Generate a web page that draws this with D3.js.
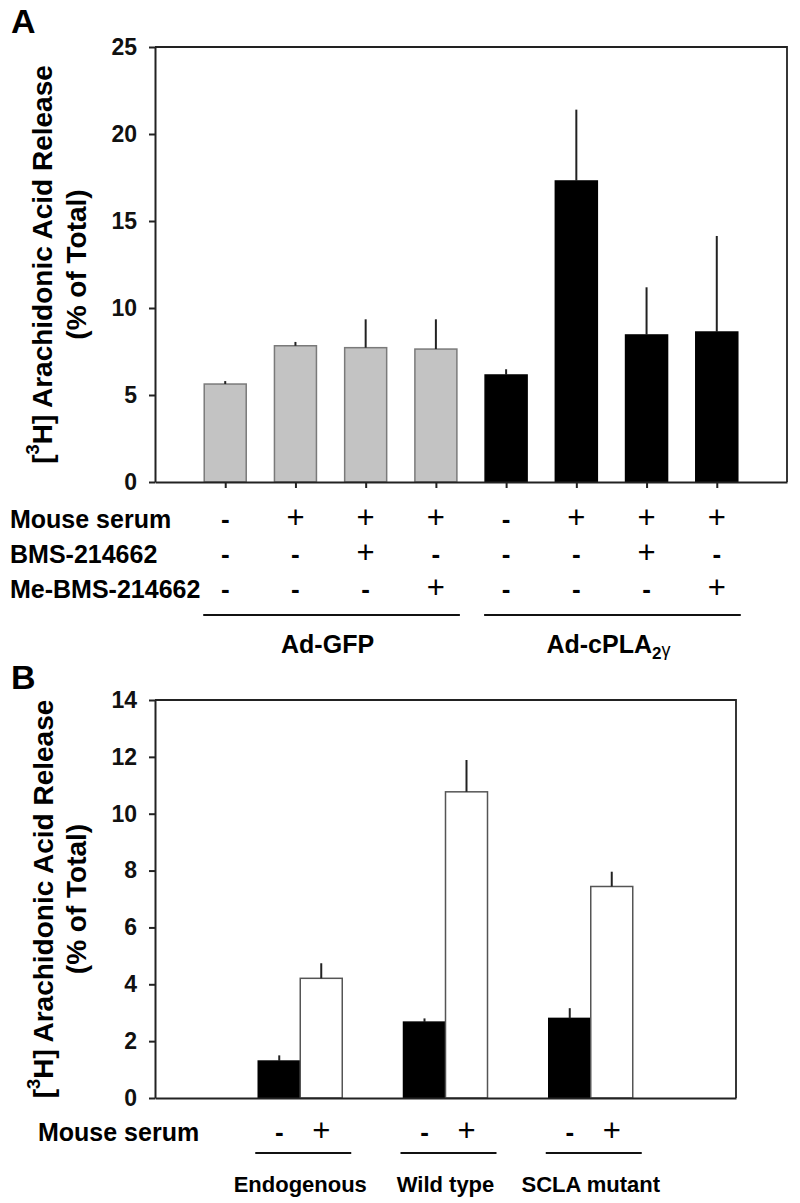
<!DOCTYPE html>
<html>
<head>
<meta charset="utf-8">
<script src="https://cdn.jsdelivr.net/npm/d3@7"></script>
<style>
  html, body { margin: 0; padding: 0; background: #fff; }
  svg { display: block; font-family: "Liberation Sans", Arial, Helvetica, sans-serif; }
</style>
</head>
<body>
<svg id="chart" width="800" height="1203"></svg>
<script>
// ---------------- Panel A data ----------------
const barsA = ["a1", "a2", "a3", "a4", "a5", "a6", "a7", "a8"];
const mouseSerumA = ["-", "+", "+", "+", "-", "+", "+", "+"];
const bmsA = ["-", "-", "+", "-", "-", "-", "+", "-"];
const meBmsA = ["-", "-", "-", "+", "-", "-", "-", "+"];
const groupOfA = ["Ad-GFP", "Ad-GFP", "Ad-GFP", "Ad-GFP", "Ad-cPLA", "Ad-cPLA", "Ad-cPLA", "Ad-cPLA"];
const valuesA = [5.63, 7.83, 7.72, 7.64, 6.15, 17.3, 8.45, 8.62];
const errorsA = [0.17, 0.22, 1.63, 1.71, 0.33, 4.1, 2.74, 5.52];
const ticksA = [0, 5, 10, 15, 20, 25];
const rowLabelsA = ["Mouse serum", "BMS-214662", "Me-BMS-214662"];

// ---------------- Panel B data ----------------
const groupsB = ["Endogenous", "Wild type", "SCLA mutant"];
const serumB = ["-", "+"];
const valuesBMinus = [1.3, 2.67, 2.8];
const errorsBMinus = [0.2, 0.13, 0.36];
const valuesBPlus = [4.21, 10.77, 7.44];
const errorsBPlus = [0.53, 1.12, 0.52];
const ticksB = [0, 2, 4, 6, 8, 10, 12, 14];

const svg = d3.select("#chart");
const FONT_TICK = 23, FONT_TITLE = 28, FONT_ROW = 25, PLUS = 31, MINUS = 26;

function yTitle(g, cx1, cx2, cy) {
  const t1 = g.append("text")
    .attr("transform", `translate(${cx1},${cy}) rotate(-90)`)
    .attr("text-anchor", "middle").attr("dominant-baseline", "central")
    .attr("font-size", FONT_TITLE).attr("font-weight", "bold");
  t1.append("tspan").text("[");
  t1.append("tspan").text("3").attr("font-size", FONT_TITLE * 0.65).attr("dy", -9);
  t1.append("tspan").text("H] Arachidonic Acid Release").attr("dy", 9);
  g.append("text")
    .attr("transform", `translate(${cx2},${cy}) rotate(-90)`)
    .attr("text-anchor", "middle").attr("dominant-baseline", "central")
    .attr("font-size", FONT_TITLE).attr("font-weight", "bold")
    .text("(% of Total)");
}

function styleAxis(g) {
  g.selectAll(".domain").attr("stroke", "#222").attr("stroke-width", 2);
  g.selectAll(".tick line").attr("stroke", "#222").attr("stroke-width", 2);
  g.selectAll(".tick text").attr("font-size", FONT_TICK).attr("font-weight", "bold")
    .attr("font-family", "'Liberation Sans', Arial, sans-serif").attr("fill", "#111");
}

function sign(sel, v) {
  sel.attr("font-size", v === "+" ? PLUS : MINUS)
     .attr("font-weight", v === "+" ? "normal" : "bold")
     .text(v);
}

// ================= PANEL A =================
const A = { left: 155, right: 787, top: 47, bottom: 482 };
const xA = d3.scalePoint().domain(barsA).range([A.left, A.right]).padding(1);
const yA = d3.scaleLinear().domain([0, 25]).range([A.bottom, A.top]);
const bwA = 42;
const gA = svg.append("g");

gA.append("text").attr("x", 11).attr("y", 33).attr("font-size", 34).attr("font-weight", "bold").text("A");

gA.append("path")
  .attr("d", `M${A.left},${A.top}H${A.right}V${A.bottom}`)
  .attr("fill", "none").attr("stroke", "#222").attr("stroke-width", 1.8);

gA.selectAll("rect.bar").data(barsA).join("rect")
  .attr("x", d => xA(d) - bwA / 2)
  .attr("y", (d, i) => yA(valuesA[i]))
  .attr("width", bwA)
  .attr("height", (d, i) => yA(0) - yA(valuesA[i]))
  .attr("fill", (d, i) => groupOfA[i] === "Ad-GFP" ? "#c3c3c3" : "#000")
  .attr("stroke", (d, i) => groupOfA[i] === "Ad-GFP" ? "#7a7a7a" : "#000")
  .attr("stroke-width", 1.5);

gA.selectAll("line.err").data(barsA).join("line")
  .attr("x1", d => xA(d)).attr("x2", d => xA(d))
  .attr("y1", (d, i) => yA(valuesA[i]))
  .attr("y2", (d, i) => yA(valuesA[i] + errorsA[i]))
  .attr("stroke", "#222").attr("stroke-width", 2);

gA.append("g").attr("transform", `translate(${A.left},0)`)
  .call(d3.axisLeft(yA).tickValues(ticksA).tickSize(6).tickSizeOuter(0).tickPadding(12))
  .call(styleAxis);
gA.append("g").attr("transform", `translate(0,${A.bottom})`)
  .call(d3.axisBottom(xA).tickSize(6).tickSizeOuter(0).tickFormat(""))
  .call(styleAxis);

const rowYA = [528, 563, 598];
const rowsA = [mouseSerumA, bmsA, meBmsA];
rowLabelsA.forEach((lab, r) => {
  gA.append("text").attr("x", 10).attr("y", rowYA[r])
    .attr("font-size", FONT_ROW).attr("font-weight", "bold").text(lab);
  barsA.forEach((d, i) => {
    gA.append("text").attr("x", xA(d)).attr("y", rowYA[r])
      .attr("text-anchor", "middle").call(sign, rowsA[r][i]);
  });
});

const groupNamesA = ["Ad-GFP", "Ad-cPLA"];
groupNamesA.forEach(gname => {
  const members = barsA.filter((d, i) => groupOfA[i] === gname);
  const x0 = xA(members[0]) - bwA / 2 - 1, x1 = xA(members[members.length - 1]) + bwA / 2 + 3;
  gA.append("line").attr("x1", x0).attr("x2", x1).attr("y1", 615).attr("y2", 615)
    .attr("stroke", "#111").attr("stroke-width", 1.8);
  const t = gA.append("text").attr("x", (x0 + x1) / 2 - 4).attr("y", 653)
    .attr("text-anchor", "middle").attr("font-size", FONT_ROW).attr("font-weight", "bold");
  if (gname === "Ad-GFP") {
    t.text("Ad-GFP");
  } else {
    t.append("tspan").text("Ad-cPLA");
    t.append("tspan").text("2").attr("font-size", 17).attr("dy", 6);
    t.append("tspan").text("γ").attr("font-size", 18).attr("font-weight", "normal").attr("dy", -3);
  }
});

yTitle(gA, 42, 76, (A.top + A.bottom) / 2);

// ================= PANEL B =================
const B = { left: 155, right: 736, top: 700, bottom: 1098 };
const xB = d3.scalePoint().domain(groupsB).range([B.left, B.right]).padding(1);
const yB = d3.scaleLinear().domain([0, 14]).range([B.bottom, B.top]);
const bwB = 42;
const sub = d3.scaleBand().domain(serumB).range([-bwB, bwB]);
const gB = svg.append("g");

gB.append("text").attr("x", 11).attr("y", 689).attr("font-size", 34).attr("font-weight", "bold").text("B");

gB.append("path")
  .attr("d", `M${B.left},${B.top}H${B.right}V${B.bottom}`)
  .attr("fill", "none").attr("stroke", "#222").attr("stroke-width", 1.8);

const seriesB = [
  { key: "-", vals: valuesBMinus, errs: errorsBMinus, fill: "#000", stroke: "#000" },
  { key: "+", vals: valuesBPlus, errs: errorsBPlus, fill: "#fff", stroke: "#555" }
];
seriesB.forEach(s => {
  gB.selectAll(null).data(groupsB).join("rect")
    .attr("x", d => xB(d) + sub(s.key))
    .attr("y", (d, i) => yB(s.vals[i]))
    .attr("width", sub.bandwidth())
    .attr("height", (d, i) => yB(0) - yB(s.vals[i]))
    .attr("fill", s.fill).attr("stroke", s.stroke).attr("stroke-width", 1.5);
  gB.selectAll(null).data(groupsB).join("line")
    .attr("x1", d => xB(d) + sub(s.key) + sub.bandwidth() / 2)
    .attr("x2", d => xB(d) + sub(s.key) + sub.bandwidth() / 2)
    .attr("y1", (d, i) => yB(s.vals[i]))
    .attr("y2", (d, i) => yB(s.vals[i] + s.errs[i]))
    .attr("stroke", "#222").attr("stroke-width", 2);
});

gB.append("g").attr("transform", `translate(${B.left},0)`)
  .call(d3.axisLeft(yB).tickValues(ticksB).tickSize(6).tickSizeOuter(0).tickPadding(12))
  .call(styleAxis);
gB.append("g").attr("transform", `translate(0,${B.bottom})`)
  .call(d3.axisBottom(xB).tickValues([]).tickSizeOuter(0))
  .call(styleAxis);

gB.append("text").attr("x", 38).attr("y", 1141)
  .attr("font-size", FONT_ROW).attr("font-weight", "bold").text("Mouse serum");
groupsB.forEach(gname => {
  serumB.forEach(k => {
    gB.append("text")
      .attr("x", xB(gname) + sub(k) + sub.bandwidth() / 2)
      .attr("y", 1141).attr("text-anchor", "middle").call(sign, k);
  });
  gB.append("line")
    .attr("x1", xB(gname) - 45).attr("x2", xB(gname) + 51)
    .attr("y1", 1153).attr("y2", 1153)
    .attr("stroke", "#111").attr("stroke-width", 1.8);
  gB.append("text").attr("x", xB(gname)).attr("y", 1192)
    .attr("text-anchor", "middle").attr("font-size", 22).attr("font-weight", "bold")
    .text(gname);
});

yTitle(gB, 43, 76, (B.top + B.bottom) / 2);
</script>
</body>
</html>
